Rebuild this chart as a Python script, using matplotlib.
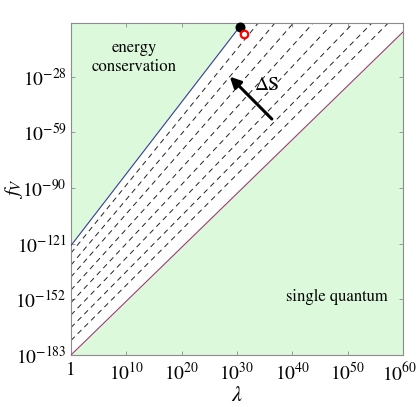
import numpy as np
import matplotlib
matplotlib.use("Agg")
import matplotlib.pyplot as plt
import matplotlib.transforms as mtransforms
from matplotlib.ticker import FixedLocator, FixedFormatter, NullLocator

plt.rcParams['font.family'] = ['STIXGeneral', 'DejaVu Serif']
plt.rcParams['mathtext.fontset'] = 'stix'
plt.rcParams['lines.scale_dashes'] = False

# ---- data (log10 values) ----
x_tick_exp = [0, 10, 20, 30, 40, 50, 60]
x_tick_labels = ['1', r'$10^{10}$', r'$10^{20}$', r'$10^{30}$', r'$10^{40}$', r'$10^{50}$', r'$10^{60}$']
y_tick_exp = [-183, -152, -121, -90, -59, -28]
y_tick_labels = [r'$10^{-183}$', r'$10^{-152}$', r'$10^{-121}$', r'$10^{-90}$', r'$10^{-59}$', r'$10^{-28}$']
x_range_exp = [0, 60]
y_range_exp = [-183, 2]

# energy conservation bound: log f = intercept + slope * log lambda
energy_slope = 4.0
energy_intercept = -122.0
energy_end_exp = 30.5
# single quantum bound
quantum_slope = 3.0
quantum_intercept = -183.0
# constant-entropy dashed lines
dashed_intercepts = [-126.2, -132.9, -139.5, -146.8, -153.8, -160.7, -167.7, -174.9]
dashed_slopes = [3.79, 3.66, 3.52, 3.40, 3.29, 3.19, 3.12, 3.085]
# special points (log lambda, log f)
black_point = (30.5, 0.0)
red_point = (31.2, -4.0)
# arrow (log lambda, log f)
arrow_tail = (36.3, -51.5)
arrow_head = (28.7, -27.9)
arrow_label_pos = (35.3, -33.0)

green = '#dcf9dc'
blue = (0.24, 0.24, 0.6)
magenta = (0.6, 0.24, 0.442)
frame_gray = '#8c8c8c'

fig = plt.figure(figsize=(4.19, 4.07), dpi=100)
ax = fig.add_axes([71/419, 52/407, 332/419, 332/407])
ax.set_xscale('log')
ax.set_yscale('log')
xmin, xmax = 10.0**x_range_exp[0], 10.0**x_range_exp[1]
ymin, ymax = 10.0**y_range_exp[0], 10.0**y_range_exp[1]
ax.set_xlim(xmin, xmax)
ax.set_ylim(ymin, ymax)

lx = np.linspace(x_range_exp[0], x_range_exp[1], 600)
lam = 10.0**lx

# green regions
e_line = np.minimum(energy_intercept + energy_slope * lx, y_range_exp[1])
ax.fill_between(lam, 10.0**e_line, ymax, color=green, lw=0, zorder=0)
q_line = quantum_intercept + quantum_slope * lx
ax.fill_between(lam, ymin, 10.0**np.minimum(q_line, y_range_exp[1]), color=green, lw=0, zorder=0)

# dashed lines
for b, s in zip(dashed_intercepts, dashed_slopes):
    ax.plot(lam, 10.0**(b + s * lx), color='#222222', lw=0.7,
            dashes=(3.8, 3.0), zorder=2)

# bounds
le = np.linspace(x_range_exp[0], energy_end_exp, 300)
ax.plot(10.0**le, 10.0**(energy_intercept + energy_slope * le), color=blue, lw=0.8, zorder=3)
ax.plot(lam, 10.0**q_line, color=magenta, lw=0.8, zorder=3)

# points
ax.plot(10.0**black_point[0], 10.0**black_point[1], 'o', color='black', ms=6.2, clip_on=False, zorder=5)
ax.plot(10.0**red_point[0], 10.0**red_point[1], 'o', mfc='white', mec='red', mew=1.6, ms=5.4, clip_on=False, zorder=5)

# arrow
ax.annotate('', xy=(10.0**arrow_head[0], 10.0**arrow_head[1]),
            xytext=(10.0**arrow_tail[0], 10.0**arrow_tail[1]),
            arrowprops=dict(arrowstyle='-|>', color='black', lw=2.2, mutation_scale=16,
                            shrinkA=0, shrinkB=0), zorder=6)
ax.text(10.0**arrow_label_pos[0], 10.0**arrow_label_pos[1], 'ΔS', fontsize=14,
        ha='center', va='center', zorder=6)

# region labels
ax.text(0.19, 0.895, 'energy\nconservation', transform=ax.transAxes, fontsize=12,
        ha='center', va='center', linespacing=1.25)
ax.text(0.80, 0.176, 'single quantum', transform=ax.transAxes, fontsize=12,
        ha='center', va='center')

# ticks
ax.xaxis.set_major_locator(FixedLocator([10.0**e for e in x_tick_exp]))
ax.xaxis.set_major_formatter(FixedFormatter(x_tick_labels))
ax.yaxis.set_major_locator(FixedLocator([10.0**e for e in y_tick_exp]))
ax.yaxis.set_major_formatter(FixedFormatter(y_tick_labels))
ax.xaxis.set_minor_locator(NullLocator())
ax.yaxis.set_minor_locator(NullLocator())
ax.tick_params(which='major', direction='in', length=3, width=0.6, color=frame_gray,
               top=True, right=True, labelsize=14, pad=3)
ax.tick_params(axis='x', pad=5)
for sp in ax.spines.values():
    sp.set_color(frame_gray)
    sp.set_linewidth(0.8)

# nudge the last x tick label slightly left so it stays inside the figure
last_tick = ax.xaxis.get_major_ticks()[-1]
last_tick.label1.set_transform(last_tick.label1.get_transform() +
                               mtransforms.ScaledTranslation(-0.03, 0, fig.dpi_scale_trans))

ax.set_xlabel(r'$\lambda$', fontsize=16)
ax.set_ylabel(r'$f_V$', fontsize=15)
ax.xaxis.set_label_coords(0.5, -0.095)
ax.yaxis.set_label_coords(-0.14, 0.5)

fig.savefig('out.png', dpi=100)
